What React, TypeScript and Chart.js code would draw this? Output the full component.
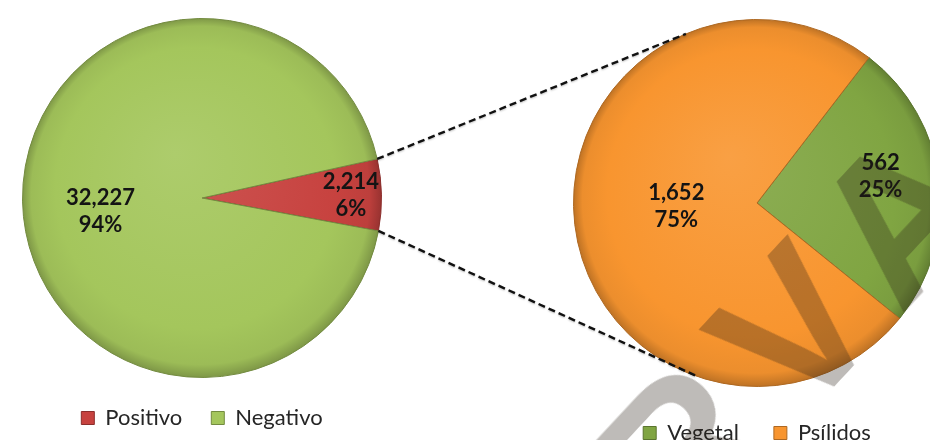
import React, { useEffect, useRef } from "react";
import { Chart, registerables } from "chart.js";

Chart.register(...registerables);

// Resultado de las pruebas
const testLabels = ["Positivo", "Negativo"];
const testValues = [2214, 32227];
const testColors = ["#c7423f", "#a4c65c"];

// Origen de las muestras positivas
const originLabels = ["Vegetal", "Psílidos"];
const originValues = [562, 1652];
const originColors = ["#80a542", "#f8952f"];

const watermarkText = "RVA";

const FONT = "Lato, 'Open Sans', sans-serif";

// label placement per slice: [fraction of radius, angular shift in degrees]
const testLabelPlacement: [number, number][] = [
  [0.83, 0],
  [0.57, -6.4],
];
const originLabelPlacement: [number, number][] = [
  [0.69, -5.8],
  [0.44, 5],
];

function shade(hex: string, f: number): string {
  const n = parseInt(hex.slice(1), 16);
  let r = (n >> 16) & 255,
    g = (n >> 8) & 255,
    b = n & 255;
  const t = f < 0 ? 0 : 255;
  const p = Math.abs(f);
  r = Math.round((t - r) * p + r);
  g = Math.round((t - g) * p + g);
  b = Math.round((t - b) * p + b);
  return `rgb(${r},${g},${b})`;
}

function bevelFill(colors: string[]) {
  return (c: any) => {
    const chart = c.chart;
    const area = chart.chartArea;
    const base = colors[c.dataIndex % colors.length];
    if (!area) return base;
    const cx = (area.left + area.right) / 2;
    const cy = (area.top + area.bottom) / 2;
    const r = Math.min(area.right - area.left, area.bottom - area.top) / 2;
    const g = chart.ctx.createRadialGradient(cx - r * 0.15, cy - r * 0.25, 0, cx, cy, r);
    g.addColorStop(0, shade(base, 0.1));
    g.addColorStop(0.78, base);
    g.addColorStop(0.94, shade(base, -0.05));
    g.addColorStop(1, shade(base, -0.24));
    return g;
  };
}

function sliceLabels(placement: [number, number][]) {
  return {
    id: "sliceLabels",
    afterDatasetsDraw(chart: any) {
      const ctx = chart.ctx;
      const meta = chart.getDatasetMeta(0);
      const data = chart.data.datasets[0].data as number[];
      const total = data.reduce((a, b) => a + b, 0);
      ctx.save();
      ctx.font = `bold 22px ${FONT}`;
      ctx.fillStyle = "#141414";
      ctx.textAlign = "center";
      ctx.textBaseline = "middle";
      meta.data.forEach((arc: any, i: number) => {
        const { x, y, startAngle, endAngle, outerRadius } = arc.getProps(
          ["x", "y", "startAngle", "endAngle", "outerRadius"],
          true
        );
        const [f, shift] = placement[i];
        const a = (startAngle + endAngle) / 2 + (shift * Math.PI) / 180;
        const px = x + Math.cos(a) * outerRadius * f;
        const py = y + Math.sin(a) * outerRadius * f;
        ctx.fillText(data[i].toLocaleString("en-US"), px, py - 13);
        ctx.fillText(Math.round((data[i] / total) * 100) + "%", px, py + 14);
      });
      ctx.restore();
    },
  };
}

function pieConfig(
  labels: string[],
  values: number[],
  colors: string[],
  rotation: number,
  padding: { top: number; left: number; right: number; bottom: number },
  legendPad: number,
  placement: [number, number][]
): any {
  return {
    type: "pie",
    data: {
      labels,
      datasets: [
        {
          data: values,
          backgroundColor: bevelFill(colors),
          borderColor: colors.map((c) => shade(c, -0.3)),
          borderWidth: 1,
        },
      ],
    },
    options: {
      animation: false,
      responsive: false,
      rotation,
      layout: { padding },
      plugins: {
        tooltip: { enabled: false },
        legend: {
          position: "bottom",
          labels: {
            boxWidth: 13,
            boxHeight: 13,
            padding: legendPad,
            color: "#262626",
            font: { family: FONT, size: 22 },
            generateLabels: (chart: any) =>
              Chart.overrides.pie.plugins.legend.labels
                .generateLabels(chart)
                .map((item: any, i: number) => ({
                  ...item,
                  fillStyle: colors[i],
                  strokeStyle: shade(colors[i], -0.3),
                  lineWidth: 1,
                })),
          },
        },
      },
    },
    plugins: [sliceLabels(placement)],
  };
}

const LEFT_BOX = { x: 0, y: 0, w: 410, h: 440 };
const RIGHT_BOX = { x: 560, y: 0, w: 394, h: 456 };

export default function App() {
  const leftRef = useRef<HTMLCanvasElement>(null);
  const rightRef = useRef<HTMLCanvasElement>(null);
  const linkRef = useRef<HTMLCanvasElement>(null);

  useEffect(() => {
    document.body.style.margin = "0";
    const testTotal = testValues.reduce((a, b) => a + b, 0);
    const posSweep = (testValues[0] / testTotal) * 360;

    const left = new Chart(
      leftRef.current!,
      pieConfig(
        testLabels,
        testValues,
        testColors,
        90 - posSweep / 2 - 1,
        { top: 18, left: 22, right: 28, bottom: 1 },
        29,
        testLabelPlacement
      )
    );
    const right = new Chart(
      rightRef.current!,
      pieConfig(
        originLabels,
        originValues,
        originColors,
        37.6,
        { top: 19, left: 13, right: 13, bottom: 2 },
        35,
        originLabelPlacement
      )
    );

    // dashed connectors from the positive slice to the detail pie
    const lctx = linkRef.current!.getContext("2d")!;
    lctx.clearRect(0, 0, 930, 440);
    const la: any = left.getDatasetMeta(0).data[0].getProps(
      ["x", "y", "startAngle", "endAngle", "outerRadius"],
      true
    );
    const ra: any = right.getDatasetMeta(0).data[0].getProps(["x", "y", "outerRadius"], true);
    const from = [la.startAngle, la.endAngle].map((a: number) => [
      LEFT_BOX.x + la.x + Math.cos(a) * la.outerRadius,
      LEFT_BOX.y + la.y + Math.sin(a) * la.outerRadius,
    ]);
    const to = [-112.8, 108.6].map((d) => {
      const a = (d * Math.PI) / 180;
      return [RIGHT_BOX.x + ra.x + Math.cos(a) * ra.outerRadius, RIGHT_BOX.y + ra.y + Math.sin(a) * ra.outerRadius];
    });
    lctx.save();
    lctx.strokeStyle = "#111";
    lctx.lineWidth = 2.4;
    lctx.setLineDash([7, 4]);
    lctx.shadowColor = "rgba(0,0,0,0.25)";
    lctx.shadowBlur = 2;
    lctx.shadowOffsetY = 1;
    for (let i = 0; i < 2; i++) {
      lctx.beginPath();
      lctx.moveTo(from[i][0], from[i][1]);
      lctx.lineTo(to[i][0], to[i][1]);
      lctx.stroke();
    }
    lctx.restore();

    return () => {
      left.destroy();
      right.destroy();
    };
  }, []);

  return (
    <div
      style={{
        position: "fixed",
        left: 0,
        top: 0,
        width: 930,
        height: 440,
        overflow: "hidden",
        background: "#fff",
      }}
    >
      <canvas
        ref={leftRef}
        width={LEFT_BOX.w}
        height={LEFT_BOX.h}
        style={{ position: "absolute", left: LEFT_BOX.x, top: LEFT_BOX.y }}
      />
      <canvas
        ref={rightRef}
        width={RIGHT_BOX.w}
        height={RIGHT_BOX.h}
        style={{ position: "absolute", left: RIGHT_BOX.x, top: RIGHT_BOX.y }}
      />
      <canvas
        ref={linkRef}
        width={930}
        height={440}
        style={{ position: "absolute", left: 0, top: 0, pointerEvents: "none" }}
      />
      <div
        style={{
          position: "absolute",
          left: 800,
          top: 322,
          transform: "translate(-50%, -50%) rotate(-47deg)",
          font: "bold 200px 'Liberation Sans', Arial, sans-serif",
          letterSpacing: 30,
          color: "rgba(40,30,20,0.3)",
          whiteSpace: "nowrap",
          pointerEvents: "none",
          lineHeight: 1,
        }}
      >
        {watermarkText}
      </div>
    </div>
  );
}
